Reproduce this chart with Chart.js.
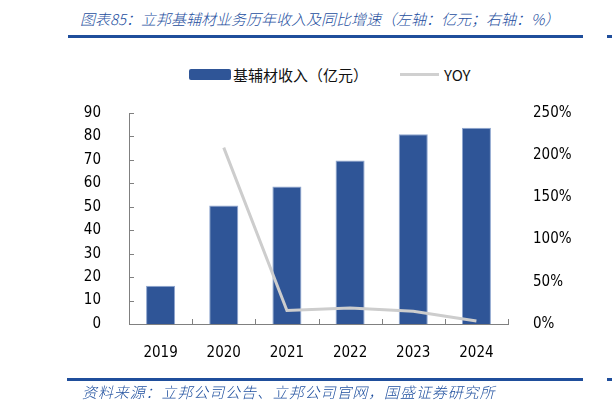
<!DOCTYPE html>
<html>
<head>
<meta charset="utf-8">
<script src="https://cdn.jsdelivr.net/npm/chart.js@4"></script>
<style>
  body { margin: 0; background: #fff; }
  #wrap { position: relative; width: 612px; height: 411px; overflow: hidden; }
  #chart { position: absolute; left: 0; top: 0; }
  .cap { position: absolute; font-family: "Noto Sans CJK SC", sans-serif; font-style: italic; font-weight: 300; color: #1d4e9e; font-size: 15px; white-space: nowrap; }
  .rule { position: absolute; height: 3px; background: #1f4e9b; }
  .leg { position: absolute; font-family: "Noto Sans CJK SC", sans-serif; font-size: 15px; color: #111; white-space: nowrap; line-height: 18px; }
</style>
</head>
<body>
<div id="wrap">
  <div class="cap" style="left:80px; top:8px;">图表85：立邦基辅材业务历年收入及同比增速（左轴：亿元；右轴：%）</div>
  <div class="rule" style="left:68px; top:35px; width:515px;"></div>
  <div class="rule" style="left:607px; top:35px; width:5px;"></div>

  <div style="position:absolute; left:189px; top:69px; width:42px; height:11px; background:#2f5597; border-radius:2px;"></div>
  <div class="leg" style="left:233px; top:66px;">基辅材收入（亿元）</div>
  <div style="position:absolute; left:400px; top:73px; width:39px; height:3px; background:#d0d0d0;"></div>
  <div class="leg" style="left:444px; top:66px;">YOY</div>

  <canvas id="chart" width="612" height="411"></canvas>

  <div class="rule" style="left:67px; top:378px; width:516px;"></div>
  <div class="rule" style="left:607px; top:378px; width:5px;"></div>
  <div class="cap" style="left:82px; top:381px; letter-spacing:0.9px;">资料来源：立邦公司公告、立邦公司官网，国盛证券研究所</div>
</div>
<script>
// Data
const years = ['2019', '2020', '2021', '2022', '2023', '2024'];
const revenue = [16.3, 50.5, 58.6, 69.7, 80.9, 83.7];   // 亿元
const yoy = [null, 2.09, 0.16, 0.19, 0.15, 0.036];       // ratio
const leftTicks = [0, 10, 20, 30, 40, 50, 60, 70, 80, 90];
const rightTicks = [0, 0.5, 1, 1.5, 2, 2.5];

const axisColor = '#808080';
const labelColor = '#000';
const tickFont = { family: "'DejaVu Sans Condensed', 'DejaVu Sans', sans-serif", size: 15 };

// Short tick marks pointing into the plot, like the original
const innerTicks = {
    id: 'innerTicks',
    afterDatasetsDraw(chart) {
        const ctx = chart.ctx;
        const area = chart.chartArea;
        const x = chart.scales.x;
        const y = chart.scales.y;
        ctx.save();
        ctx.strokeStyle = axisColor;
        ctx.lineWidth = 1;
        ctx.beginPath();
        y.ticks.forEach((t, i) => {
            const py = Math.round(y.getPixelForTick(i)) + 0.5;
            ctx.moveTo(area.left, py);
            ctx.lineTo(area.left + 5, py);
        });
        for (let i = 0; i <= years.length; i++) {
            const px = Math.round(x.getPixelForValue(i - 0.5)) + 0.5;
            ctx.moveTo(px, area.bottom);
            ctx.lineTo(px, area.bottom - 5);
        }
        ctx.stroke();
        ctx.restore();
    }
};

document.addEventListener('DOMContentLoaded', function() {
    const ctx = document.getElementById('chart').getContext('2d');
    new Chart(ctx, {
        data: {
            labels: years,
            datasets: [
                {
                    type: 'line',
                    label: 'YOY',
                    data: yoy,
                    yAxisID: 'y1',
                    borderColor: '#cdcdcd',
                    borderWidth: 3,
                    pointRadius: 0,
                    tension: 0,
                    order: 0
                },
                {
                    type: 'bar',
                    label: '基辅材收入（亿元）',
                    data: revenue,
                    yAxisID: 'y',
                    backgroundColor: '#2f5597',
                    borderColor: '#8fa6cf',
                    borderWidth: 1,
                    borderSkipped: 'bottom',
                    barPercentage: 0.46,
                    categoryPercentage: 1,
                    order: 1
                }
            ]
        },
        options: {
            responsive: false,
            animation: false,
            layout: { padding: { top: 113, left: 0, right: 0, bottom: 0 } },
            plugins: {
                legend: { display: false },
                tooltip: { enabled: false }
            },
            scales: {
                x: {
                    grid: { display: false },
                    border: { display: true, color: axisColor, width: 1 },
                    ticks: { font: tickFont, color: labelColor, padding: 12 },
                    afterFit: function(scale) { scale.height = 87; }
                },
                y: {
                    position: 'left',
                    min: 0,
                    max: 90,
                    afterBuildTicks: function(scale) {
                        scale.ticks = leftTicks.map(v => ({ value: v }));
                    },
                    grid: { display: false },
                    border: { display: true, color: axisColor, width: 1 },
                    ticks: { font: tickFont, color: labelColor, padding: 20 },
                    afterFit: function(scale) { scale.width = 129; }
                },
                y1: {
                    position: 'right',
                    min: 0,
                    max: 2.5,
                    afterBuildTicks: function(scale) {
                        scale.ticks = rightTicks.map(v => ({ value: v }));
                    },
                    grid: { display: false },
                    border: { display: false },
                    ticks: {
                        font: tickFont,
                        color: labelColor,
                        padding: 17,
                        callback: function(value) {
                            return Math.round(value * 100) + '%';
                        }
                    },
                    afterFit: function(scale) { scale.width = 104; }
                }
            }
        },
        plugins: [innerTicks]
    });
});
</script>
</body>
</html>
